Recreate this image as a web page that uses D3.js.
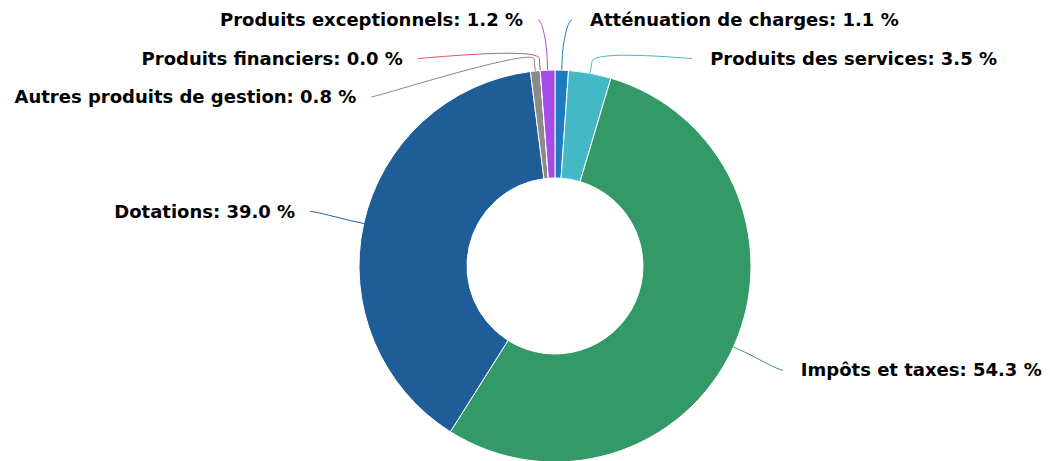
<!DOCTYPE html>
<html>
<head>
<meta charset="utf-8">
<script src="https://cdn.jsdelivr.net/npm/d3@7"></script>
<style>
  body { margin: 0; background: #fff; }
  text { font-family: "DejaVu Sans", Verdana, sans-serif; font-weight: bold; font-size: 18px; }
</style>
</head>
<body>
<svg id="chart" width="1050" height="461"></svg>
<script>
// categories and their shares (percent), clockwise from 12 o'clock
var categories = ["Atténuation de charges", "Produits des services", "Impôts et taxes", "Dotations",
                  "Autres produits de gestion", "Produits financiers", "Produits exceptionnels"];
var shares = [1.1, 3.5, 54.3, 39.0, 0.8, 0.0, 1.2];
var colors = ["#1f7bc1", "#42b9c4", "#339966", "#1f5d99", "#8a8a8a", "#e84a5f", "#a64de8"];

var width = 1050, height = 461;
var cx = 555, cy = 266;
var outerRadius = 196, innerRadius = 88;
var labelRadius = outerRadius + 50;   // horizontal reach of the labels
var labelRadiusY = outerRadius + 56;  // vertical reach of the labels
var breakOffset = 12;                 // connector kink beyond the slice
var connectorPadding = 5, minReach = 12, minSpacing = 38.5, topLimit = 20;

var data = categories.map((c, i) => ({ name: c, value: shares[i], color: colors[i] }));

var svg = d3.select("#chart");
var g = svg.append("g").attr("transform", `translate(${cx},${cy})`);

var pie = d3.pie().value(d => d.value).sort(null);
var arcs = pie(data);

var arc = d3.arc().innerRadius(innerRadius).outerRadius(outerRadius);

g.selectAll("path.slice")
    .data(arcs)
    .join("path")
    .attr("class", "slice")
    .attr("d", arc)
    .attr("fill", d => d.data.color)
    .attr("stroke", "#fff")
    .attr("stroke-width", 1);

// label layout: natural position, then push down on each side to avoid overlap
arcs.forEach(d => {
    var a = (d.startAngle + d.endAngle) / 2;
    d.left = a > Math.PI;
    d.naturalY = -Math.cos(a) * labelRadiusY;
    d.touch = [Math.sin(a) * outerRadius, -Math.cos(a) * outerRadius];
    d.brk = [Math.sin(a) * (outerRadius + breakOffset), -Math.cos(a) * (outerRadius + breakOffset)];
});

[true, false].forEach(side => {
    var list = arcs.filter(d => d.left === side).sort((a, b) => a.naturalY - b.naturalY);
    var prev = topLimit - cy - minSpacing;
    list.forEach(d => {
        d.y = Math.max(d.naturalY, prev + minSpacing);
        prev = d.y;
        var dy = Math.max(-1, Math.min(1, d.y / labelRadius));
        var dx = Math.max(minReach, Math.cos(Math.asin(dy)) * labelRadius) + connectorPadding;
        d.x = side ? -dx : dx;
    });
});

g.selectAll("path.connector")
    .data(arcs)
    .join("path")
    .attr("class", "connector")
    .attr("fill", "none")
    .attr("stroke", d => d.data.color)
    .attr("stroke-width", 1)
    .attr("d", d => {
        var c1x = d.x + (d.left ? 5 : -5);
        var c2x = 2 * d.brk[0] - d.touch[0], c2y = 2 * d.brk[1] - d.touch[1];
        return `M${d.x},${d.y}C${c1x},${d.y} ${c2x},${c2y} ${d.brk[0]},${d.brk[1]}L${d.touch[0]},${d.touch[1]}`;
    });

g.selectAll("text.label")
    .data(arcs)
    .join("text")
    .attr("class", "label")
    .attr("x", d => d.left ? d.x - 15 : d.x + 18)
    .attr("y", d => d.y)
    .attr("dy", "0.35em")
    .attr("text-anchor", d => d.left ? "end" : "start")
    .attr("fill", "#000")
    .text(d => `${d.data.name}: ${d3.format(".1f")(d.data.value)} %`);
</script>
</body>
</html>
